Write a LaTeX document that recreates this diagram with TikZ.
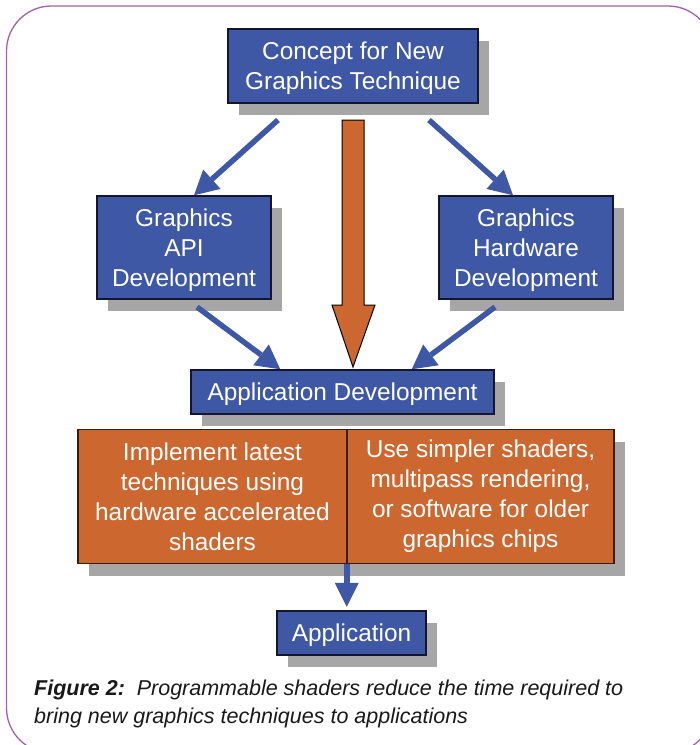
\documentclass[tikz,border=0pt]{standalone}
\usepackage{fontspec}
\setmainfont{Liberation Sans}
\usetikzlibrary{arrows.meta,shadows,calc}

\definecolor{boxblue}{RGB}{62,88,166}
\definecolor{boxline}{RGB}{20,22,48}
\definecolor{rust}{RGB}{204,103,48}
\definecolor{rustline}{RGB}{58,28,12}
\definecolor{shade}{RGB}{166,166,166}
\definecolor{framepurple}{RGB}{165,95,175}
\definecolor{captext}{RGB}{25,25,25}

\tikzset{
  boxshadow/.style={drop shadow={shadow xshift=11pt,shadow yshift=-12pt,fill=shade,opacity=1}},
  boxtext/.style={text=white,font=\fontsize{24.4}{30}\selectfont,align=center,inner sep=0pt},
  bluebox/.style={boxshadow,boxtext,text depth=0pt,draw=boxline,line width=1.5pt,fill=boxblue},
  rustbox/.style={boxshadow,boxtext,draw=rustline,line width=1.5pt,fill=rust},
  flow/.style={draw=boxblue,line width=5.5pt,
    -{Triangle[length=24pt,width=26pt,line width=0pt]}},
  flowsmall/.style={draw=boxblue,line width=6pt,
    -{Triangle[length=24pt,width=24pt,line width=0pt]}},
  bigarrow/.style={fill=rust,draw=black,line width=1pt,line join=miter},
  caption/.style={anchor=base west,inner sep=0pt,text=captext,
    font=\fontsize{21.5}{28}\selectfont\itshape},
  frame/.style={draw=framepurple,line width=1.3pt,rounded corners=45pt}
}

\begin{document}
\begin{tikzpicture}[x=1pt,y=-1pt]
  \useasboundingbox (0,0) rectangle (700,745);
  \clip (0,0) rectangle (700,745);

  % outer rounded frame (runs past the right and bottom edges)
  \draw[frame] (6.5,6) rectangle (713,753);

  % boxes
  \node[bluebox,minimum width=250pt,minimum height=74pt] (concept) at (353,66)
    {Concept for New\\Graphics Technique};
  \node[bluebox,minimum width=174pt,minimum height=103pt] (api) at (184,247.5)
    {Graphics\\API\\Development};
  \node[bluebox,minimum width=174pt,minimum height=103pt] (hw) at (526,247.5)
    {Graphics\\Hardware\\Development};
  \node[bluebox,minimum width=303pt,minimum height=44pt] (appdev) at (342.5,392)
    {Application Development};
  \node[rustbox,minimum width=269pt,minimum height=134pt] (impl) at (212.5,496.5)
    {Implement latest\\techniques using\\hardware accelerated\\shaders};
  \node[rustbox,minimum width=267pt,minimum height=134pt] (simpler) at (480.5,496.5)
    {Use simpler shaders,\\multipass rendering,\\or software for older\\graphics chips};
  \node[bluebox,minimum width=149pt,minimum height=44pt] (app) at (351.5,633)
    {Application};

  % broad arrow from the concept straight down to application development
  \draw[bigarrow] (342,120) -- (364,120) -- (364,305) -- (375,305)
    -- (353,367) -- (332,305) -- (342,305) -- cycle;

  % flow connectors
  \coordinate (s1) at (278,120);
  \coordinate (s2) at (429,120);
  \coordinate (s3) at (197,307);
  \coordinate (s4) at (495,307);
  \draw[flow] (s1) -- ([xshift=10pt]api.north);
  \draw[flow] (s2) -- ([xshift=-13pt]hw.north);
  \draw[flow] (s3) -- ([xshift=90pt]appdev.north west);
  \draw[flow] (s4) -- ([xshift=-83pt]appdev.north east);
  \draw[flowsmall,shorten >=3.5pt] ([xshift=-1pt]impl.south east)
    -- ([xshift=-1pt]impl.south east |- app.north);

  % caption
  \node[caption] (cap1) at (34,695)
    {\textbf{Figure 2:}\hspace{0.55em}Programmable shaders reduce the time required to};
  \node[caption] (cap2) at (34,723)
    {bring new graphics techniques to applications};
\end{tikzpicture}
\end{document}
